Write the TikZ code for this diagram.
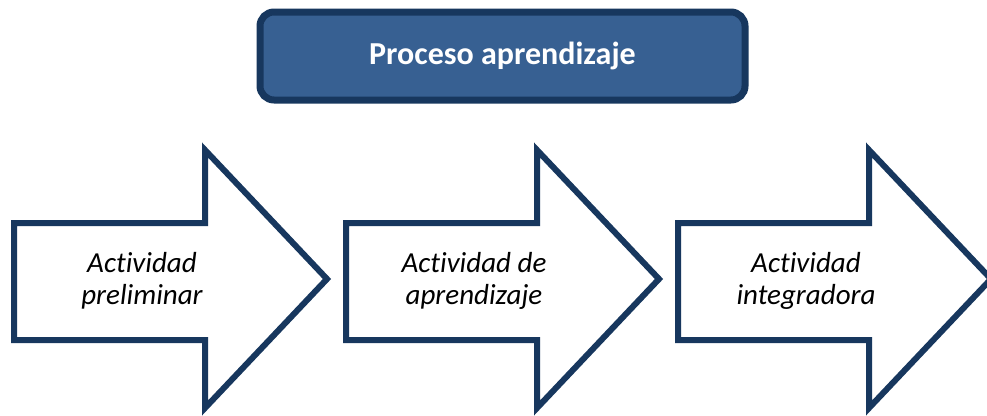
\documentclass[tikz,border=0pt]{standalone}
\usepackage{fontspec}
\setmainfont{Carlito}[RawFeature={-liga;-clig}]
\definecolor{azul}{HTML}{376092}
\definecolor{marino}{HTML}{17375E}
\begin{document}
\begin{tikzpicture}[x=1pt, y=-1pt]
  \useasboundingbox (0,0) rectangle (987,415);
  \def\grosor{6pt}
  % cuadro superior
  \draw[line width=7pt, draw=marino, fill=azul, rounded corners=14pt] (260,12) rectangle (745,100);
  \node[text=white, font=\bfseries\fontsize{32}{38}\selectfont] (titulo) at (502.5,56) {Proceso aprendizaje};
  % flechas
  \foreach \x/\nombre/\texto in {14/pre/{Actividad\\preliminar}, 346/apr/{Actividad de\\aprendizaje}, 678/int/{Actividad\\integradora}} {
    \draw[line width=\grosor, draw=marino, fill=white] (\x,223) -- (\x+191,223) -- (\x+191,150) -- (\x+313,279) -- (\x+191,408) -- (\x+191,340) -- (\x,340) -- cycle;
    \node[align=center, font=\itshape\fontsize{29}{32}\selectfont] (\nombre) at (\x+128,281) {\texto};
  }
\end{tikzpicture}
\end{document}
